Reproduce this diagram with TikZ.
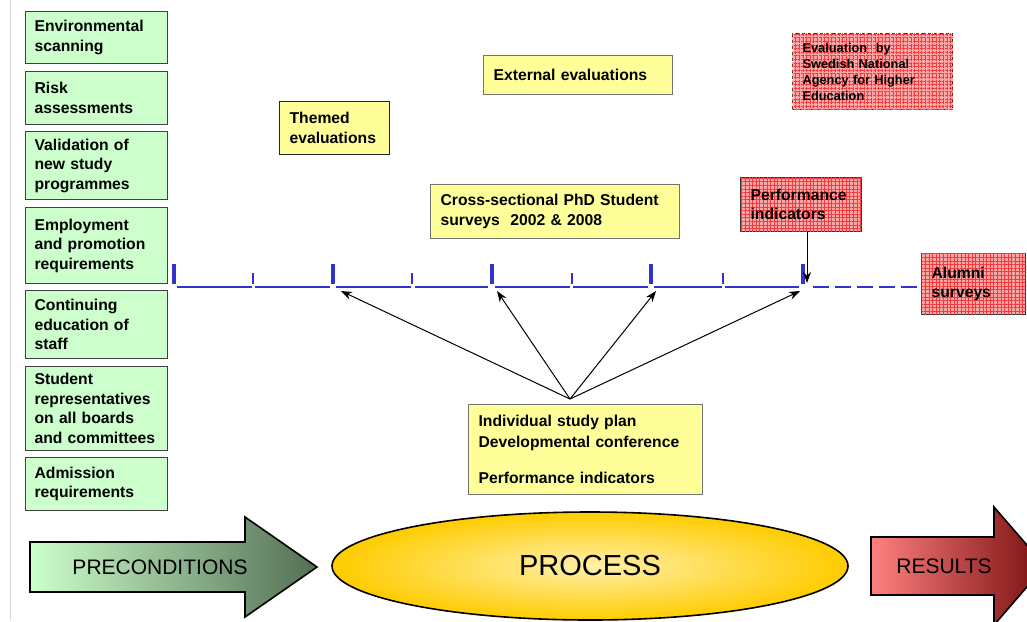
\documentclass[tikz,border=0pt]{standalone}
\usepackage{fontspec}
\setmainfont{Liberation Sans}
\usetikzlibrary{arrows.meta,shapes.geometric,patterns.meta}
\definecolor{gfill}{RGB}{204,255,204}
\definecolor{yfill}{RGB}{255,255,153}
\definecolor{rfill}{RGB}{255,165,165}
\definecolor{rgrid}{RGB}{240,60,60}
\definecolor{tline}{RGB}{51,51,204}
\definecolor{preL}{RGB}{204,255,204}
\definecolor{preR}{RGB}{85,110,85}
\definecolor{resL}{RGB}{255,128,128}
\definecolor{resR}{RGB}{120,15,15}
\definecolor{procIn}{RGB}{255,240,170}
\definecolor{procOut}{RGB}{255,204,0}
\begin{document}
\begin{tikzpicture}[x=1pt,y=-1pt,
  base/.style={anchor=north west, inner xsep=10pt, inner ysep=0pt, align=left,
    font=\fontsize{15.7}{19.5}\selectfont\bfseries, line width=1.2pt},
  gbox/.style={base, draw=black!75, fill=gfill, inner xsep=9pt},
  ybox/.style={base, draw=black!55, fill=yfill},
  rbox/.style={base, draw=black!80, fill=rfill,
    postaction={pattern={Lines[angle=0,distance=3.6pt,line width=0.6pt]}, pattern color=rgrid},
    postaction={pattern={Lines[angle=90,distance=3.6pt,line width=0.6pt]}, pattern color=rgrid}},
  tlmain/.style={tline, line width=2pt},
  bigtick/.style={tline, line width=4pt},
  smalltick/.style={tline, line width=2pt},
  conn/.style={black, line width=1pt, -{Stealth[length=11pt,width=8pt]}},
  bigarrow/.style={draw=black, line width=1.6pt},
  bigtext/.style={font=\fontsize{21}{21}\selectfont}
]
\clip (0,0) rectangle (1027,621);
\fill[white] (0,0) rectangle (1027,621);
\draw[gray!30, line width=1pt] (10,0) -- (10,621);

% left column
\node[gbox, minimum width=142, minimum height=52, text width=124pt] (g1) at (25,11) {Environmental\\scanning};
\node[gbox, minimum width=142, minimum height=53, text width=124pt] (g2) at (25,71) {Risk\\assessments};
\node[gbox, minimum width=142, minimum height=68, text width=124pt] (g3) at (25,131) {Validation of\\new study\\programmes};
\node[gbox, minimum width=142, minimum height=76, text width=124pt] (g4) at (25,207) {Employment\\and promotion\\requirements};
\node[gbox, minimum width=142, minimum height=68, text width=124pt] (g5) at (25,290) {Continuing\\education of\\staff};
\node[gbox, minimum width=142, minimum height=84, text width=124pt] (g6) at (25,366) {Student\\representatives\\on all boards\\and committees};
\node[gbox, minimum width=142, minimum height=53, text width=124pt] (g7) at (25,457) {Admission\\requirements};

% yellow boxes
\node[ybox, draw=black!85, minimum width=110, minimum height=53, text width=90pt] (themed) at (279,101) {Themed\\evaluations};
\node[ybox, minimum width=189, minimum height=39, text width=169pt] (ext) at (483,55) {External evaluations\\[-3pt]};
\node[ybox, minimum width=249, minimum height=54, text width=229pt] (cross) at (430,184) {Cross-sectional PhD Student\\surveys~ 2002 \& 2008};
\node[ybox, minimum width=234, minimum height=90, text width=214pt, font=\fontsize{15.7}{20.5}\selectfont\bfseries] (ind) at (468,404) {Individual study plan\\Developmental conference\\[16pt]Performance indicators};

% red boxes
\node[rbox, dashed, line width=1pt, minimum width=160, minimum height=76, text width=140pt, font=\fontsize{12.8}{16}\selectfont\bfseries] (swe) at (792,33) {Evaluation~ by\\Swedish National\\Agency for Higher\\Education};
\node[rbox, minimum width=121, minimum height=54, text width=101pt] (perf) at (740,177) {Performance\\indicators};
\node[rbox, minimum width=104, minimum height=61, text width=84pt] (alum) at (921,253) {Alumni\\surveys\\[-6pt]};

% timeline
\foreach \a/\b in {177/252,255/330,336/411,415/488,495/570,573/648,654/722,725/799}
  \draw[tlmain] (\a,287) -- (\b,287);
\draw[tlmain, dash pattern=on 16pt off 6pt] (813,287) -- (918,287);
\foreach \x in {174,333,492,651,803}
  \draw[bigtick] (\x,264) -- (\x,284);
\foreach \x in {253,412,572,723}
  \draw[smalltick] (\x,273) -- (\x,284);

\coordinate (apex) at (570,399);
\coordinate (t1) at (341,291);
\coordinate (t2) at (497,291);
\coordinate (t3) at (656,291);
\coordinate (t4) at (800,291);
\coordinate (tp) at (807,283);

\draw[conn] (apex) -- (t1);
\draw[conn] (apex) -- (t2);
\draw[conn] (apex) -- (t3);
\draw[conn] (apex) -- (t4);
\draw[conn] (perf.south -| tp) -- (tp);

% bottom
\draw[bigarrow, left color=preL, right color=preR]
  (30,542) -- (245,542) -- (245,517) -- (317,567) -- (245,617) -- (245,592) -- (30,592) -- cycle;
\node[bigtext] (pre) at (160,567) {PRECONDITIONS};

\node[ellipse, draw=black, line width=1.6pt, inner color=procIn, outer color=procOut,
  minimum width=516, minimum height=108, inner sep=0pt] (proc) at (590,566) {};
\node[font=\fontsize{29}{29}\selectfont] (proctext) at (proc.center) {PROCESS};

\draw[bigarrow, left color=resL, right color=resR]
  (871,537) -- (994,537) -- (994,507) -- (1045,566) -- (994,625) -- (994,595) -- (871,595) -- cycle;
\node[bigtext] (res) at (944,566) {RESULTS};
\end{tikzpicture}
\end{document}
